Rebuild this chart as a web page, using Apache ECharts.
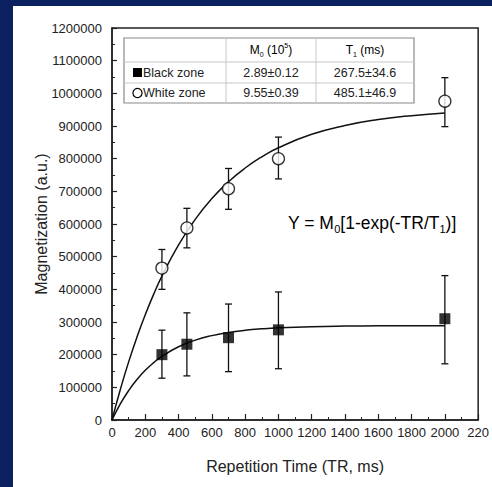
<!DOCTYPE html>
<html>
<head>
<meta charset="utf-8">
<script src="https://cdn.jsdelivr.net/npm/echarts@6/dist/echarts.min.js"></script>
<style>
  html, body { margin: 0; padding: 0; background: #0b205f; }
  #wrap { position: absolute; left: 13px; top: 6px; width: 479px; height: 481px; background: #fff; }
  #relaxChart { width: 479px; height: 481px; }
</style>
</head>
<body>
<div id="wrap"><div id="relaxChart"></div></div>
<script>
// measured points
var trPoints = [300, 450, 700, 1000, 2000]
var blackMean = [200000, 232000, 252000, 276000, 310000]
var blackLow = [128000, 135000, 148000, 157000, 172000]
var blackHigh = [275000, 328000, 355000, 392000, 442000]
var whiteMean = [465000, 588000, 708000, 800000, 976000]
var whiteLow = [400000, 527000, 645000, 738000, 898000]
var whiteHigh = [522000, 648000, 770000, 866000, 1048000]

// fitted curves
var fitTR = [0, 50, 100, 150, 200, 250, 300, 400, 500, 600, 700, 800, 900, 1000, 1200, 1400, 1600, 1800, 2000]
var blackFit = [0, 49300, 90100, 124000, 152200, 175500, 194800, 224200, 244400, 258300, 267900, 274500, 279000, 282100, 285700, 287500, 288300, 288700, 288800]
var whiteFit = [0, 93500, 177900, 254000, 322600, 384600, 440500, 536300, 614300, 677800, 729400, 771400, 805600, 833400, 874500, 901700, 919700, 931600, 939500]

// inset table
var tableHeader = ['', '{a|M}{s|0}{a| (10}{p|5}{a|)}', '{a|T}{s|1}{a| (ms)}']
var tableRows = [
  ['Black zone', '2.89±0.12', '267.5±34.6'],
  ['White zone', '9.55±0.39', '485.1±46.9']
]

var xTicks = ['0', '200', '400', '600', '800', '1000', '1200', '1400', '1600', '1800', '2000', '220']

function zip(xs, ys) {
  return xs.map(function (x, i) { return [x, ys[i]] })
}
function bars(lo, hi) {
  return trPoints.map(function (x, i) { return [x, lo[i], hi[i]] })
}

function renderErr(params, api) {
  var lo = api.coord([api.value(0), api.value(1)])
  var hi = api.coord([api.value(0), api.value(2)])
  var w = 3.5
  var st = { stroke: '#111', lineWidth: 1.3 }
  return {
    type: 'group',
    children: [
      { type: 'line', shape: { x1: lo[0], y1: lo[1], x2: hi[0], y2: hi[1] }, style: st },
      { type: 'line', shape: { x1: lo[0] - w, y1: lo[1], x2: lo[0] + w, y2: lo[1] }, style: st },
      { type: 'line', shape: { x1: hi[0] - w, y1: hi[1], x2: hi[0] + w, y2: hi[1] }, style: st }
    ]
  }
}

var font = 'Liberation Sans, Arial, sans-serif'
var richSub = {
  a: { fontSize: 12, fontFamily: font, color: '#222', lineHeight: 16, verticalAlign: 'middle' },
  s: { fontSize: 7, fontFamily: font, color: '#222', lineHeight: 16, verticalAlign: 'bottom', padding: [6, 0, 0, 0] },
  p: { fontSize: 7, fontFamily: font, color: '#222', lineHeight: 16, verticalAlign: 'top' }
}

// table geometry (container px)
var tL = 111, tR = 401, tT = 32, tB = 97, r1 = 56, r2 = 77, c1 = 213, c2 = 303
var rowMid = [66.5, 87]
var tableGraphics = [
  { type: 'rect', shape: { x: tL, y: tT, width: tR - tL, height: tB - tT }, style: { fill: '#fff', stroke: '#8a8a8a', lineWidth: 1.2 }, z: 10 },
  { type: 'line', shape: { x1: tL, y1: r1, x2: tR, y2: r1 }, style: { stroke: '#c8c8c8', lineWidth: 1 }, z: 11 },
  { type: 'line', shape: { x1: tL, y1: r2, x2: tR, y2: r2 }, style: { stroke: '#c8c8c8', lineWidth: 1 }, z: 11 },
  { type: 'line', shape: { x1: c1, y1: tT, x2: c1, y2: tB }, style: { stroke: '#c8c8c8', lineWidth: 1 }, z: 11 },
  { type: 'line', shape: { x1: c2, y1: tT, x2: c2, y2: tB }, style: { stroke: '#c8c8c8', lineWidth: 1 }, z: 11 },
  { type: 'text', x: (c1 + c2) / 2, y: 44, z: 12, style: { text: tableHeader[1], rich: richSub, align: 'center', verticalAlign: 'middle' } },
  { type: 'text', x: (c2 + tR) / 2, y: 44, z: 12, style: { text: tableHeader[2], rich: richSub, align: 'center', verticalAlign: 'middle' } },
  { type: 'rect', shape: { x: 120, y: rowMid[0] - 4.5, width: 9, height: 9 }, style: { fill: '#000' }, z: 12 },
  { type: 'circle', shape: { cx: 124.5, cy: rowMid[1], r: 4.6 }, style: { fill: '#fff', stroke: '#000', lineWidth: 1.2 }, z: 12 }
]
tableRows.forEach(function (row, i) {
  tableGraphics.push({ type: 'text', x: 130, y: rowMid[i], z: 12, style: { text: row[0], font: '12.5px ' + font, fill: '#222', align: 'left', verticalAlign: 'middle' } })
  tableGraphics.push({ type: 'text', x: (c1 + c2) / 2, y: rowMid[i], z: 12, style: { text: row[1], font: '12.5px ' + font, fill: '#222', align: 'center', verticalAlign: 'middle' } })
  tableGraphics.push({ type: 'text', x: (c2 + tR) / 2, y: rowMid[i], z: 12, style: { text: row[2], font: '12.5px ' + font, fill: '#222', align: 'center', verticalAlign: 'middle' } })
})
// model equation
tableGraphics.push({
  type: 'text', x: 275, y: 217, z: 12,
  style: {
    text: '{a|Y = M}{s|0}{a|[1-exp(-TR/T}{s|1}{a|)]}',
    align: 'left', verticalAlign: 'middle',
    rich: {
      a: { fontSize: 17.5, fontFamily: font, color: '#111', lineHeight: 22, verticalAlign: 'middle' },
      s: { fontSize: 11, fontFamily: font, color: '#111', lineHeight: 22, verticalAlign: 'bottom', padding: [8, 0, 0, 0] }
    }
  }
})

var chart = echarts.init(document.getElementById('relaxChart'), null, { renderer: 'svg' })
chart.setOption({
  animation: false,
  backgroundColor: '#fff',
  grid: { left: 99, top: 22, right: 8, bottom: 67, show: true, borderColor: '#222', borderWidth: 1.5, backgroundColor: 'transparent' },
  xAxis: {
    type: 'value', min: 0, max: 2200, interval: 200,
    name: 'Repetition Time (TR, ms)', nameLocation: 'middle', nameGap: 38, nameMoveOverlap: false,
    nameTextStyle: { fontSize: 16, fontFamily: font, color: '#222' },
    axisLine: { lineStyle: { color: '#222', width: 1.5 } },
    axisTick: { inside: true, length: 6, lineStyle: { color: '#222', width: 1.2 } },
    minorTick: { show: true, splitNumber: 2, length: 3, lineStyle: { color: '#222', width: 1 } },
    splitLine: { show: false },
    axisLabel: { fontSize: 13, fontFamily: font, color: '#222', margin: 6, showMaxLabel: true,
      formatter: function (v) { return xTicks[Math.round(v / 200)] } }
  },
  yAxis: {
    type: 'value', min: 0, max: 1200000, interval: 100000,
    name: 'Magnetization (a.u.)', nameLocation: 'middle', nameGap: 63, nameMoveOverlap: false,
    nameTextStyle: { fontSize: 16, fontFamily: font, color: '#222' },
    axisLine: { show: true, lineStyle: { color: '#222', width: 1.5 } },
    axisTick: { show: true, inside: true, length: 5, lineStyle: { color: '#222', width: 1.2 } },
    minorTick: { show: true, splitNumber: 2, length: 3, lineStyle: { color: '#222', width: 1 } },
    splitLine: { show: false },
    axisLabel: { fontSize: 13, fontFamily: font, color: '#222', margin: 10,
      formatter: function (v) { return String(v) } }
  },
  graphic: tableGraphics,
  series: [
    { type: 'line', data: zip(fitTR, whiteFit), smooth: true, symbol: 'none', lineStyle: { color: '#111', width: 1.5 }, z: 2 },
    { type: 'line', data: zip(fitTR, blackFit), smooth: true, symbol: 'none', lineStyle: { color: '#111', width: 1.5 }, z: 2 },
    { type: 'custom', data: bars(whiteLow, whiteHigh), renderItem: renderErr, z: 3 },
    { type: 'custom', data: bars(blackLow, blackHigh), renderItem: renderErr, z: 3 },
    { type: 'scatter', data: zip(trPoints, whiteMean), symbol: 'circle', symbolSize: 12,
      itemStyle: { color: '#fff', borderColor: '#000', borderWidth: 1.3 }, z: 5 },
    { type: 'scatter', data: zip(trPoints, blackMean), symbol: 'rect', symbolSize: 11,
      itemStyle: { color: '#000' }, z: 5 }
  ]
})
</script>
</body>
</html>
